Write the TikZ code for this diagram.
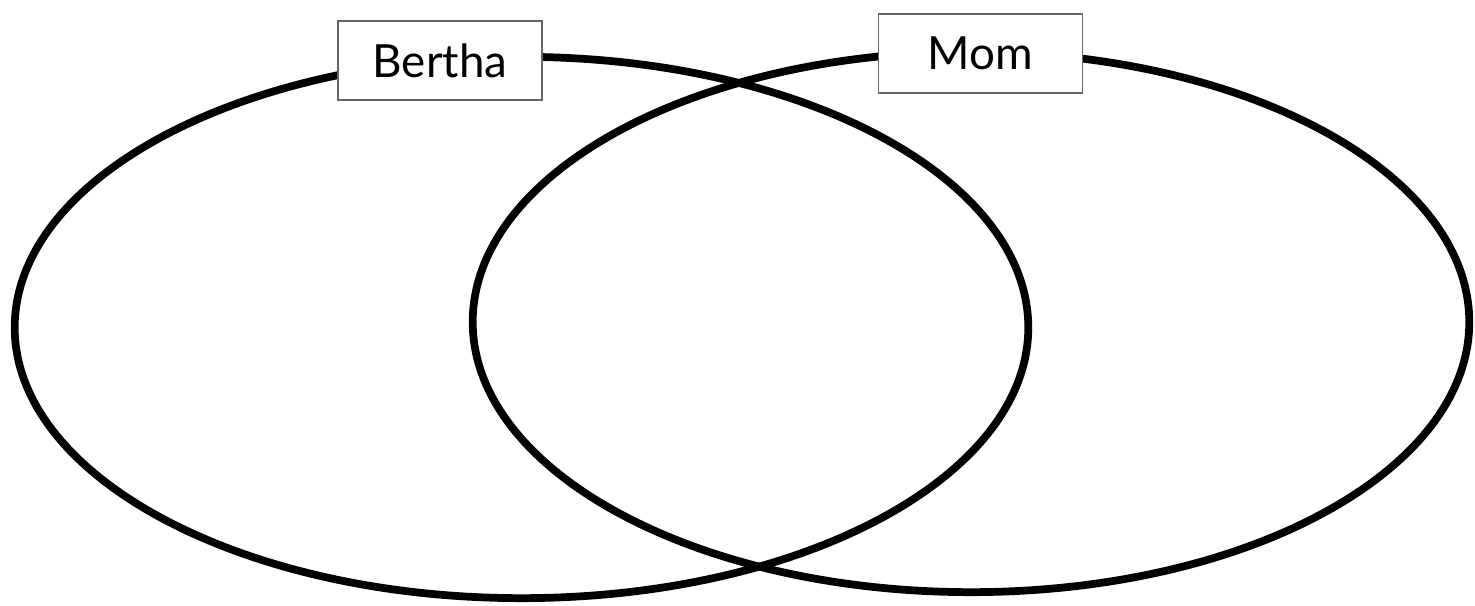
\documentclass[tikz,border=0pt]{standalone}
\usepackage{fontspec}
\setmainfont{Lato}
\begin{document}
\begin{tikzpicture}[x=0.01cm,y=-0.01cm,
  setring/.style={line width=2.2pt,draw=black},
  labelbox/.style={draw=black!60,line width=0.4pt,fill=white,minimum width=2.04cm,minimum height=0.79cm,inner sep=0pt,font=\fontsize{13}{15}\selectfont}]
\useasboundingbox (0,0) rectangle (1475,606);
\draw[setring] (521.5,327.5) ellipse [x radius=5.065cm, y radius=2.705cm];
\draw[setring] (971,322) ellipse [x radius=4.98cm, y radius=2.70cm];
\node[labelbox] (bertha) at (440,60.5) {Bertha};
\node[labelbox] (mom) at (980.5,53.5) {Mom};
\end{tikzpicture}
\end{document}
